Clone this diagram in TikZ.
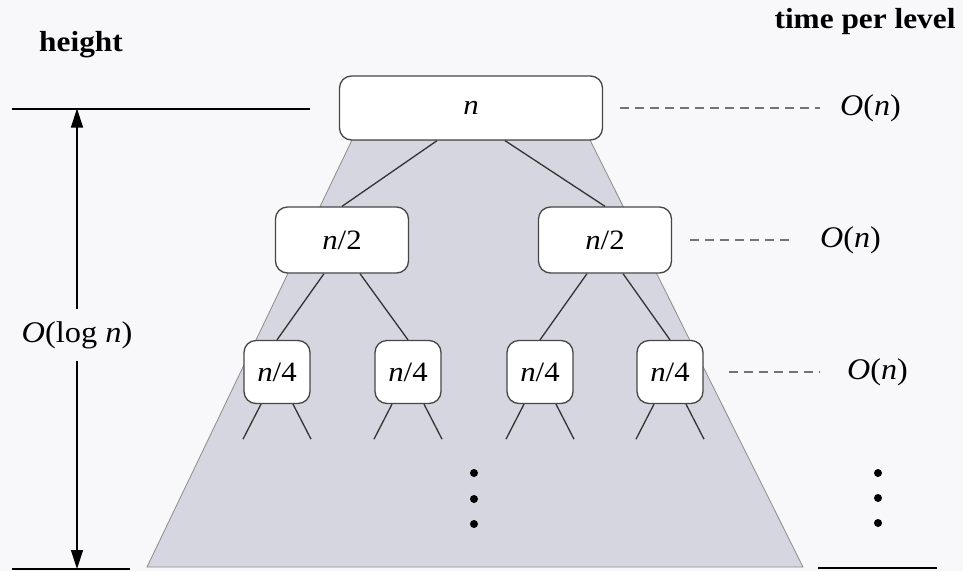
\documentclass[tikz,border=0pt]{standalone}
\usepackage{fontspec}
\usepackage{graphicx}
\setmainfont{Liberation Serif}
\usetikzlibrary{arrows.meta}
\definecolor{paper}{RGB}{248,248,250}
\definecolor{wedge}{RGB}{213,214,223}
\definecolor{boxline}{RGB}{70,70,70}
% slightly widened lettering
\newcommand{\wider}[2]{\scalebox{#1}[1]{#2}}
\tikzset{
  treebox/.style={draw=boxline, line width=1.3pt, fill=white, rounded corners=12pt, inner sep=0pt, font=\fontsize{28}{32}\selectfont},
  edge/.style={draw=black!80, line width=1.3pt},
  levelbar/.style={draw=black, line width=2.6pt},
  leader/.style={draw=black!55, line width=1.2pt, dash pattern=on 9pt off 6pt},
  cost/.style={font=\fontsize{30}{34}\selectfont, inner sep=0pt},
  heading/.style={font=\fontsize{29}{33}\selectfont\bfseries, inner sep=0pt},
  dot/.style={circle, fill=black, inner sep=0pt, minimum size=8pt},
  span/.style={draw=black, line width=1.4pt, -{Triangle[length=19pt,width=12pt]}}
}
\begin{document}
\begin{tikzpicture}[x=1pt, y=-1pt]
  \path[fill=paper] (0,0) rectangle (963,571);
  \useasboundingbox (0,0) rectangle (963,571);

  % shaded recursion wedge behind the tree
  \path[fill=wedge, draw=black!45, line width=0.8pt]
    (352,140) -- (590,140) -- (803,567) -- (147,567) -- cycle;

  % tree nodes
  \node[treebox, minimum width=263pt, minimum height=64pt] (r) at (471,108) {\wider{1.1}{\textit{n}}};
  \node[treebox, minimum width=133pt, minimum height=66pt] (a) at (342,240) {\wider{1.1}{\textit{n}/2}};
  \node[treebox, minimum width=133pt, minimum height=66pt] (b) at (605,240) {\wider{1.1}{\textit{n}/2}};
  \node[treebox, minimum width=66pt, minimum height=63pt] (a1) at (277,372) {\wider{1.1}{\textit{n}/4}};
  \node[treebox, minimum width=66pt, minimum height=63pt] (a2) at (408,372) {\wider{1.1}{\textit{n}/4}};
  \node[treebox, minimum width=66pt, minimum height=63pt] (b1) at (540,372) {\wider{1.1}{\textit{n}/4}};
  \node[treebox, minimum width=66pt, minimum height=63pt] (b2) at (670,372) {\wider{1.1}{\textit{n}/4}};

  % tree edges
  \draw[edge] ([xshift=-34pt]r.south) -- (a.north);
  \draw[edge] ([xshift=34pt]r.south) -- (b.north);
  \foreach \p/\l/\r in {a/a1/a2, b/b1/b2} {
    \draw[edge] ([xshift=-18pt]\p.south) -- (\l.north);
    \draw[edge] ([xshift=18pt]\p.south) -- (\r.north);
  }
  \foreach \c in {a1,a2,b1,b2} {
    \draw[edge] ([xshift=-16pt]\c.south) -- ++(-18,35);
    \draw[edge] ([xshift=16pt]\c.south) -- ++(18,35);
  }

  % vertical ellipsis under the tree and in the cost column
  \node[dot] (t1) at (474,473) {};
  \node[dot] (t2) at (474,499) {};
  \node[dot] (t3) at (474,524) {};
  \node[dot] (c1) at (878,473) {};
  \node[dot] (c2) at (878,498) {};
  \node[dot] (c3) at (878,523) {};

  % cost per level
  \node[heading] (tpl) at (865,22) {\wider{1.08}{time per level}};
  \node[cost, anchor=west] (o1) at (840,108) {\wider{1.07}{\textit{O}(\textit{n})}};
  \node[cost, anchor=west] (o2) at (820,240) {\wider{1.07}{\textit{O}(\textit{n})}};
  \node[cost, anchor=west] (o3) at (847,372) {\wider{1.07}{\textit{O}(\textit{n})}};
  \draw[leader] ([xshift=17pt]r.east) -- ([xshift=-20pt]o1.west);
  \draw[leader] ([xshift=18pt]b.east) -- ([xshift=-30pt]o2.west);
  \draw[leader] ([xshift=25pt]b2.east) -- ([xshift=-27pt]o3.west);

  % height of the tree
  \node[heading] (ht) at (81,45) {\wider{1.08}{height}};
  \coordinate (tl) at (12,109);
  \coordinate (tr) at (310,109);
  \coordinate (bl) at (12,569);
  \coordinate (br) at (130,569);
  \coordinate (cl) at (818,568);
  \coordinate (cr) at (937,568);
  \draw[levelbar] (tl) -- (tr);
  \draw[levelbar] (bl) -- (br);
  \draw[levelbar] (cl) -- (cr);
  \node[cost, inner ysep=12pt] (h) at (77,335) {\wider{1.08}{\textit{O}(log \textit{n})}};
  \draw[span] (h.north) -- ([yshift=0.5pt]h.north |- tl);
  \draw[span] (h.south) -- (h.south |- bl);
\end{tikzpicture}
\end{document}
